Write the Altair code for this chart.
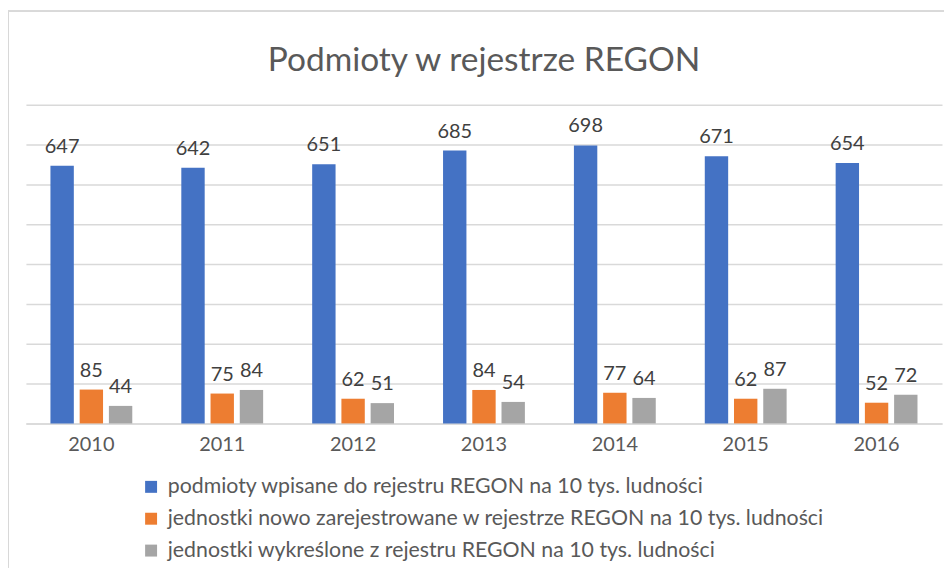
import altair as alt
import pandas as pd

years = ["2010", "2011", "2012", "2013", "2014", "2015", "2016"]
series = [
    "podmioty wpisane do rejestru REGON na 10 tys. ludności",
    "jednostki nowo zarejestrowane w rejestrze REGON na 10 tys. ludności",
    "jednostki wykreślone z rejestru REGON na 10 tys. ludności",
]
wpisane = [647, 642, 651, 685, 698, 671, 654]
nowe = [85, 75, 62, 84, 77, 62, 52]
wykreslone = [44, 84, 51, 54, 64, 87, 72]
colors = ["#4472C4", "#ED7D31", "#A5A5A5"]
title_text = "Podmioty w rejestrze REGON"

rows = []
for s, vals in zip(series, [wpisane, nowe, wykreslone]):
    for y, v in zip(years, vals):
        rows.append({"rok": y, "seria": s, "wartosc": v})
df = pd.DataFrame(rows)

FONT = "Lato"

x = alt.X("rok:N", sort=years,
          scale=alt.Scale(paddingInner=0.33, paddingOuter=0.165),
          axis=alt.Axis(title=None, labelAngle=0, labelFontSize=20, labelColor="#595959",
                        labelFont=FONT, labelPadding=11, ticks=False, domain=True,
                        domainColor="#d9d9d9", domainWidth=1.5))
y = alt.Y("wartosc:Q", scale=alt.Scale(domain=[0, 800], nice=False),
          axis=alt.Axis(title=None, labels=False, ticks=False, domain=False,
                        values=[0, 100, 200, 300, 400, 500, 600, 700, 800],
                        gridColor="#d9d9d9", gridWidth=1.5))
xo = alt.XOffset("seria:N", sort=series, scale=alt.Scale(paddingInner=0.2, paddingOuter=0.1))
color = alt.Color("seria:N", sort=series, scale=alt.Scale(domain=series, range=colors),
                  legend=alt.Legend(title=None, orient="none", legendX=115, legendY=373,
                                    symbolType="square", symbolSize=144, symbolStrokeWidth=0,
                                    labelFontSize=21.4, labelFont=FONT, labelColor="#595959",
                                    labelOffset=6, rowPadding=9, labelLimit=900))

base = alt.Chart(df)
bars = base.mark_bar().encode(x=x, y=y, xOffset=xo, color=color)
labels = base.mark_text(baseline="bottom", dy=-9, fontSize=20, font=FONT, color="#404040").encode(
    x=x, y=y, xOffset=xo, text=alt.Text("wartosc:Q"))

title = alt.Chart(pd.DataFrame({"t": [title_text]})).mark_text(
    fontSize=33.6, font=FONT, color="#595959", baseline="middle", align="center").encode(
    x=alt.value(460), y=alt.value(-44), text="t:N")

border_left = alt.Chart(df).mark_rule(color="#d9d9d9", strokeWidth=1.5).encode(
    x=alt.value(-18), y=alt.value(-94), y2=alt.value(465))
border_top = alt.Chart(df).mark_rule(color="#d9d9d9", strokeWidth=1.5).encode(
    x=alt.value(-18), x2=alt.value(930), y=alt.value(-94))

chart = alt.layer(border_left, border_top, bars, labels, title).properties(
    width=920, height=320,
    autosize=alt.AutoSizeParams(type="none"),
    padding={"left": 18, "top": 96, "right": 2, "bottom": 145},
).configure_view(stroke=None)

chart.save("out.html", embed_options={"renderer": "svg", "actions": False})
